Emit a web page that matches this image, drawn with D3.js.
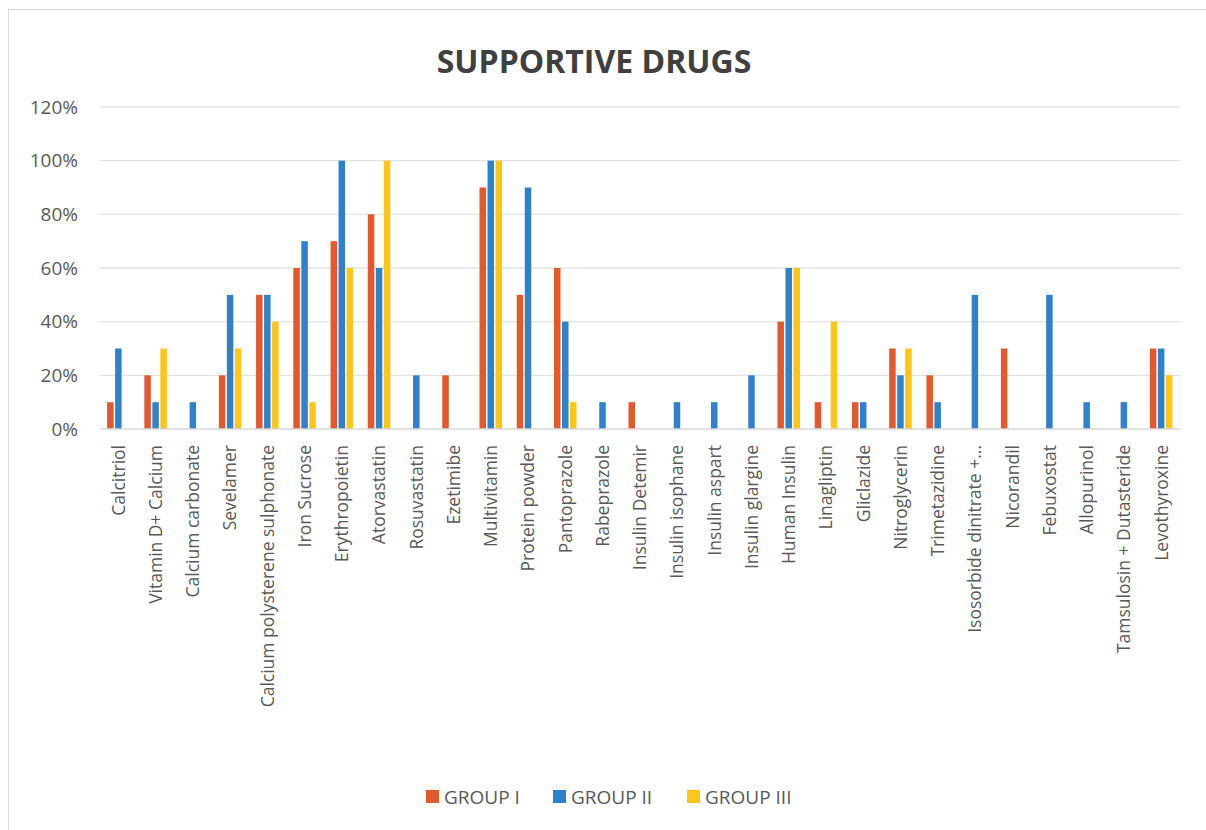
<!DOCTYPE html>
<html>
<head>
<meta charset="utf-8">
<script src="https://cdn.jsdelivr.net/npm/d3@7"></script>
<style>
  body { margin: 0; background: #fff; }
  text { font-family: "Open Sans", "Noto Sans", sans-serif; }
</style>
</head>
<body>
<svg id="chart" width="1206" height="830"></svg>
<script>
// data
const drugs = ["Calcitriol", "Vitamin D+ Calcium", "Calcium carbonate", "Sevelamer",
  "Calcium polysterene sulphonate", "Iron Sucrose", "Erythropoietin", "Atorvastatin",
  "Rosuvastatin", "Ezetimibe", "Multivitamin", "Protein powder", "Pantoprazole",
  "Rabeprazole", "Insulin Detemir", "Insulin isophane", "Insulin aspart", "Insulin glargine",
  "Human Insulin", "Linagliptin", "Gliclazide", "Nitroglycerin", "Trimetazidine",
  "Isosorbide dinitrate +...", "Nicorandil", "Febuxostat", "Allopurinol",
  "Tamsulosin + Dutasteride", "Levothyroxine"]

const groupI   = [10, 20, 0, 20, 50, 60, 70, 80, 0, 20, 90, 50, 60, 0, 10, 0, 0, 0, 40, 10, 10, 30, 20, 0, 30, 0, 0, 0, 30]
const groupII  = [30, 10, 10, 50, 50, 70, 100, 60, 20, 0, 100, 90, 40, 10, 0, 10, 10, 20, 60, 0, 10, 20, 10, 50, 0, 50, 10, 10, 30]
const groupIII = [0, 30, 0, 30, 40, 10, 60, 100, 0, 0, 100, 0, 10, 0, 0, 0, 0, 0, 60, 40, 0, 30, 0, 0, 0, 0, 0, 0, 20]

const seriesNames = ["GROUP I", "GROUP II", "GROUP III"]
const seriesColors = ["#E2592E", "#2F81C9", "#FFC618"]
const yTicks = [0, 20, 40, 60, 80, 100, 120]

const svg = d3.select("#chart")
const margin = { left: 100, right: 26, top: 107, bottom: 401 }
const W = 1206, H = 830
const plotW = W - margin.left - margin.right
const plotH = H - margin.top - margin.bottom

// chart border
svg.append("rect")
    .attr("x", 8.5).attr("y", 9.5)
    .attr("width", 1210).attr("height", 840)
    .attr("fill", "#fff").attr("stroke", "#d9d9d9")

svg.append("text")
    .attr("x", 594).attr("y", 73)
    .attr("text-anchor", "middle")
    .attr("font-size", 32).attr("font-weight", "bold")
    .attr("fill", "#404040")
    .text("SUPPORTIVE DRUGS")

const g = svg.append("g").attr("transform", `translate(${margin.left},${margin.top})`)

const y = d3.scaleLinear().domain([0, 120]).range([plotH, 0])
const x0 = d3.scaleBand().domain(drugs).range([0, plotW]).paddingInner(0.355).paddingOuter(0.1775)
const x1 = d3.scaleBand().domain(seriesNames).range([0, x0.bandwidth()])

// gridlines
g.append("g")
    .selectAll("line")
    .data(yTicks.filter(t => t > 0))
    .join("line")
    .attr("x1", 0).attr("x2", plotW)
    .attr("y1", d => y(d)).attr("y2", d => y(d))
    .attr("stroke", "#e3e3e3").attr("stroke-width", 1.3)

// y axis labels
const yAxis = g.append("g")
    .call(d3.axisLeft(y).tickValues(yTicks).tickFormat(d => d + "%").tickSize(0).tickPadding(22))
yAxis.select(".domain").remove()
yAxis.selectAll("text")
    .attr("font-size", 19).attr("fill", "#595959")
    .style("font-family", "\"Open Sans\", sans-serif")

// bars
const seriesData = [groupI, groupII, groupIII]
drugs.forEach((drug, i) => {
    const cat = g.append("g").attr("transform", `translate(${x0(drug)},0)`)
    seriesNames.forEach((s, k) => {
        const v = seriesData[k][i]
        if (!v) return
        cat.append("rect")
            .attr("x", x1(s) + 0.5)
            .attr("y", y(v))
            .attr("width", x1.bandwidth() - 1.5)
            .attr("height", plotH - y(v))
            .attr("fill", seriesColors[k])
    })
})

// baseline
g.append("line")
    .attr("x1", 0).attr("x2", plotW)
    .attr("y1", plotH).attr("y2", plotH)
    .attr("stroke", "#d9d9d9").attr("stroke-width", 1.5)

// category labels
const xAxis = g.append("g")
    .attr("transform", `translate(0,${plotH})`)
    .call(d3.axisBottom(x0).tickSize(0).tickPadding(0))
xAxis.select(".domain").remove()
xAxis.selectAll("text")
    .attr("transform", "rotate(-90)")
    .attr("text-anchor", "end")
    .attr("x", -16).attr("y", 0).attr("dy", "0.35em")
    .attr("font-size", 17.5).attr("fill", "#595959")
    .style("font-family", "\"Open Sans\", sans-serif")

// legend
const legend = svg.append("g").attr("transform", "translate(426,797)")
const legendX = [0, 127, 261]
seriesNames.forEach((s, k) => {
    const item = legend.append("g").attr("transform", `translate(${legendX[k]},0)`)
    item.append("rect")
        .attr("x", 0).attr("y", -7).attr("width", 13).attr("height", 13)
        .attr("fill", seriesColors[k])
    item.append("text")
        .attr("x", 18).attr("y", 0).attr("dy", "0.35em")
        .attr("font-size", 19).attr("fill", "#595959")
        .text(s)
})
</script>
</body>
</html>
